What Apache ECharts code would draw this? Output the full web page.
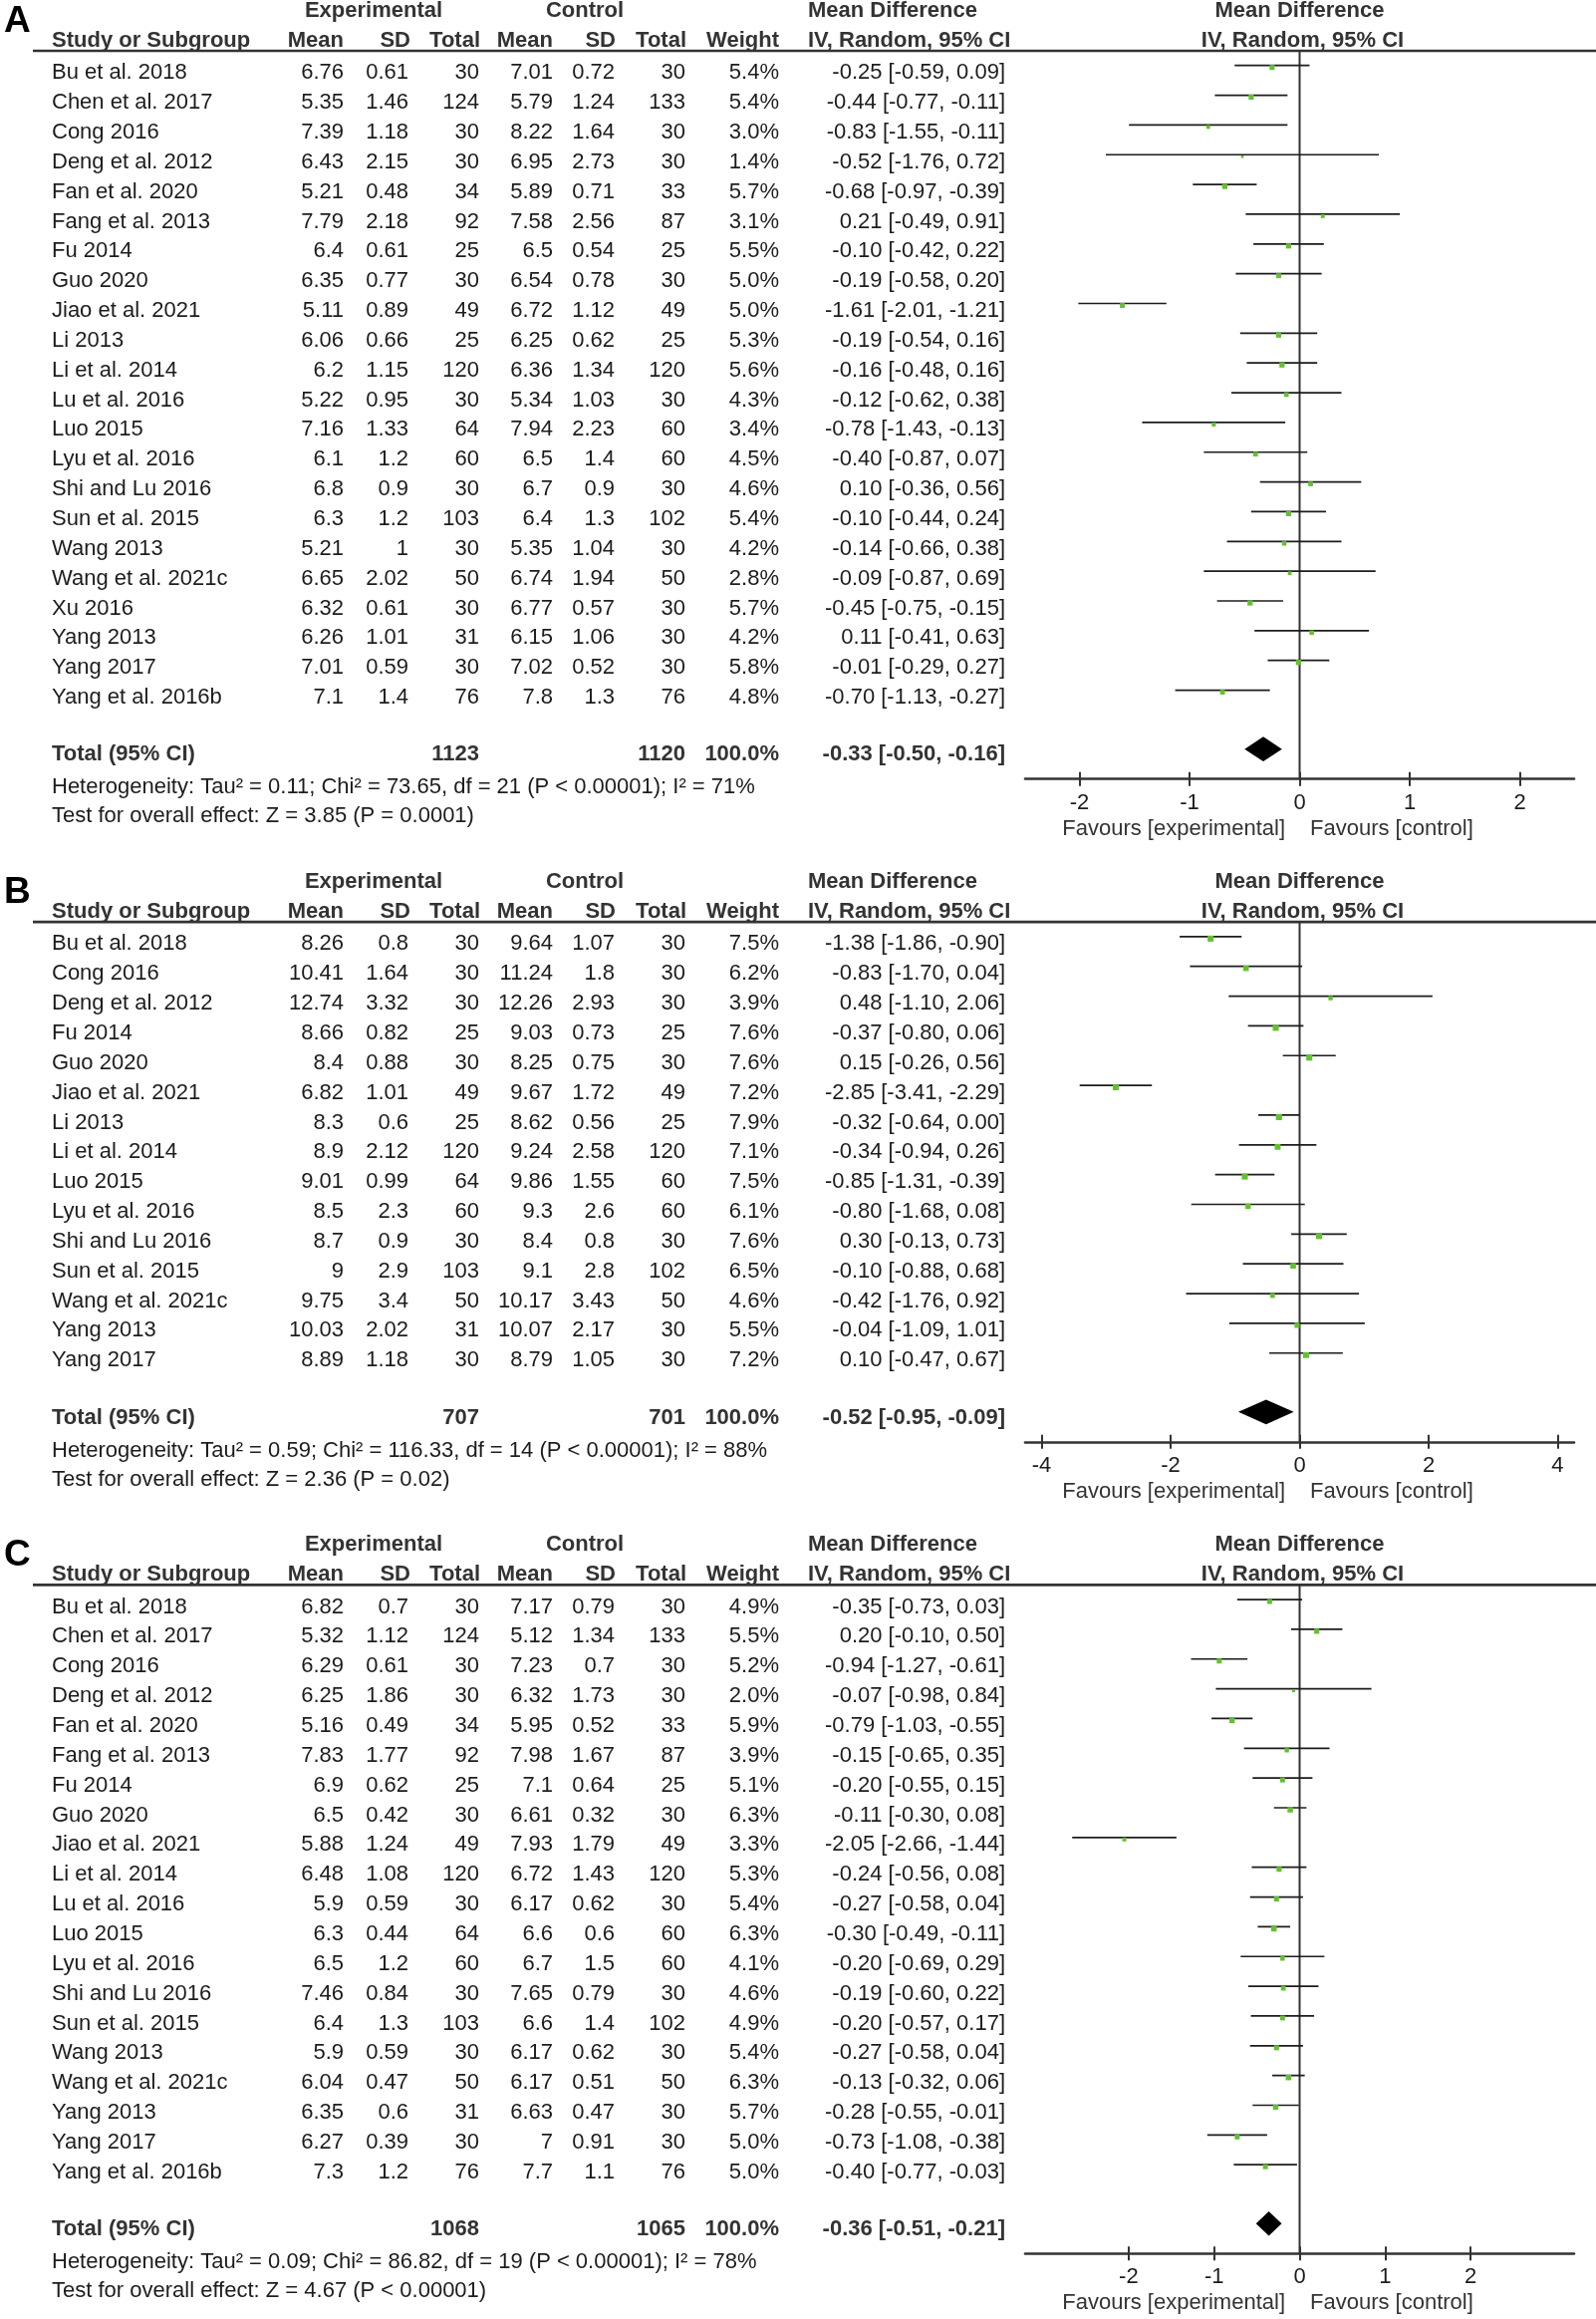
<!DOCTYPE html>
<html><head><meta charset="utf-8">
<script src="https://cdn.jsdelivr.net/npm/echarts@6.0.0/dist/echarts.min.js"></script>
<style>html,body{margin:0;padding:0;background:#fff}#chart{width:1602px;height:2327px}</style>
</head><body><div id="chart"></div>
<script>
// ---------------- Panel A ----------------
const studiesA = ['Bu et al. 2018','Chen et al. 2017','Cong 2016','Deng et al. 2012','Fan et al. 2020','Fang et al. 2013','Fu 2014','Guo 2020','Jiao et al. 2021','Li 2013','Li et al. 2014','Lu et al. 2016','Luo 2015','Lyu et al. 2016','Shi and Lu 2016','Sun et al. 2015','Wang 2013','Wang et al. 2021c','Xu 2016','Yang 2013','Yang 2017','Yang et al. 2016b'];
const expMeanA = [6.76,5.35,7.39,6.43,5.21,7.79,6.4,6.35,5.11,6.06,6.2,5.22,7.16,6.1,6.8,6.3,5.21,6.65,6.32,6.26,7.01,7.1];
const expSdA = [0.61,1.46,1.18,2.15,0.48,2.18,0.61,0.77,0.89,0.66,1.15,0.95,1.33,1.2,0.9,1.2,1,2.02,0.61,1.01,0.59,1.4];
const expNA = [30,124,30,30,34,92,25,30,49,25,120,30,64,60,30,103,30,50,30,31,30,76];
const ctlMeanA = [7.01,5.79,8.22,6.95,5.89,7.58,6.5,6.54,6.72,6.25,6.36,5.34,7.94,6.5,6.7,6.4,5.35,6.74,6.77,6.15,7.02,7.8];
const ctlSdA = [0.72,1.24,1.64,2.73,0.71,2.56,0.54,0.78,1.12,0.62,1.34,1.03,2.23,1.4,0.9,1.3,1.04,1.94,0.57,1.06,0.52,1.3];
const ctlNA = [30,133,30,30,33,87,25,30,49,25,120,30,60,60,30,102,30,50,30,30,30,76];
const weightA = [5.4,5.4,3.0,1.4,5.7,3.1,5.5,5.0,5.0,5.3,5.6,4.3,3.4,4.5,4.6,5.4,4.2,2.8,5.7,4.2,5.8,4.8];
const mdA = [-0.25,-0.44,-0.83,-0.52,-0.68,0.21,-0.10,-0.19,-1.61,-0.19,-0.16,-0.12,-0.78,-0.40,0.10,-0.10,-0.14,-0.09,-0.45,0.11,-0.01,-0.70];
const lowA = [-0.59,-0.77,-1.55,-1.76,-0.97,-0.49,-0.42,-0.58,-2.01,-0.54,-0.48,-0.62,-1.43,-0.87,-0.36,-0.44,-0.66,-0.87,-0.75,-0.41,-0.29,-1.13];
const highA = [0.09,-0.11,-0.11,0.72,-0.39,0.91,0.22,0.20,-1.21,0.16,0.16,0.38,-0.13,0.07,0.56,0.24,0.38,0.69,-0.15,0.63,0.27,-0.27];
const totalA = [1123, 1120, 100.0, -0.33, -0.50, -0.16];
const hetA = 'Heterogeneity: Tau² = 0.11; Chi² = 73.65, df = 21 (P < 0.00001); I² = 71%';
const testA = 'Test for overall effect: Z = 3.85 (P = 0.0001)';
const ticksA = [-2, -1, 0, 1, 2];
const rangeA = [-2.493, 2.493];

// ---------------- Panel B ----------------
const studiesB = ['Bu et al. 2018','Cong 2016','Deng et al. 2012','Fu 2014','Guo 2020','Jiao et al. 2021','Li 2013','Li et al. 2014','Luo 2015','Lyu et al. 2016','Shi and Lu 2016','Sun et al. 2015','Wang et al. 2021c','Yang 2013','Yang 2017'];
const expMeanB = [8.26,10.41,12.74,8.66,8.4,6.82,8.3,8.9,9.01,8.5,8.7,9,9.75,10.03,8.89];
const expSdB = [0.8,1.64,3.32,0.82,0.88,1.01,0.6,2.12,0.99,2.3,0.9,2.9,3.4,2.02,1.18];
const expNB = [30,30,30,25,30,49,25,120,64,60,30,103,50,31,30];
const ctlMeanB = [9.64,11.24,12.26,9.03,8.25,9.67,8.62,9.24,9.86,9.3,8.4,9.1,10.17,10.07,8.79];
const ctlSdB = [1.07,1.8,2.93,0.73,0.75,1.72,0.56,2.58,1.55,2.6,0.8,2.8,3.43,2.17,1.05];
const ctlNB = [30,30,30,25,30,49,25,120,60,60,30,102,50,30,30];
const weightB = [7.5,6.2,3.9,7.6,7.6,7.2,7.9,7.1,7.5,6.1,7.6,6.5,4.6,5.5,7.2];
const mdB = [-1.38,-0.83,0.48,-0.37,0.15,-2.85,-0.32,-0.34,-0.85,-0.80,0.30,-0.10,-0.42,-0.04,0.10];
const lowB = [-1.86,-1.70,-1.10,-0.80,-0.26,-3.41,-0.64,-0.94,-1.31,-1.68,-0.13,-0.88,-1.76,-1.09,-0.47];
const highB = [-0.90,0.04,2.06,0.06,0.56,-2.29,0.00,0.26,-0.39,0.08,0.73,0.68,0.92,1.01,0.67];
const totalB = [707, 701, 100.0, -0.52, -0.95, -0.09];
const hetB = 'Heterogeneity: Tau² = 0.59; Chi² = 116.33, df = 14 (P < 0.00001); I² = 88%';
const testB = 'Test for overall effect: Z = 2.36 (P = 0.02)';
const ticksB = [-4, -2, 0, 2, 4];
const rangeB = [-4.255, 4.255];

// ---------------- Panel C ----------------
const studiesC = ['Bu et al. 2018','Chen et al. 2017','Cong 2016','Deng et al. 2012','Fan et al. 2020','Fang et al. 2013','Fu 2014','Guo 2020','Jiao et al. 2021','Li et al. 2014','Lu et al. 2016','Luo 2015','Lyu et al. 2016','Shi and Lu 2016','Sun et al. 2015','Wang 2013','Wang et al. 2021c','Yang 2013','Yang 2017','Yang et al. 2016b'];
const expMeanC = [6.82,5.32,6.29,6.25,5.16,7.83,6.9,6.5,5.88,6.48,5.9,6.3,6.5,7.46,6.4,5.9,6.04,6.35,6.27,7.3];
const expSdC = [0.7,1.12,0.61,1.86,0.49,1.77,0.62,0.42,1.24,1.08,0.59,0.44,1.2,0.84,1.3,0.59,0.47,0.6,0.39,1.2];
const expNC = [30,124,30,30,34,92,25,30,49,120,30,64,60,30,103,30,50,31,30,76];
const ctlMeanC = [7.17,5.12,7.23,6.32,5.95,7.98,7.1,6.61,7.93,6.72,6.17,6.6,6.7,7.65,6.6,6.17,6.17,6.63,7,7.7];
const ctlSdC = [0.79,1.34,0.7,1.73,0.52,1.67,0.64,0.32,1.79,1.43,0.62,0.6,1.5,0.79,1.4,0.62,0.51,0.47,0.91,1.1];
const ctlNC = [30,133,30,30,33,87,25,30,49,120,30,60,60,30,102,30,50,30,30,76];
const weightC = [4.9,5.5,5.2,2.0,5.9,3.9,5.1,6.3,3.3,5.3,5.4,6.3,4.1,4.6,4.9,5.4,6.3,5.7,5.0,5.0];
const mdC = [-0.35,0.20,-0.94,-0.07,-0.79,-0.15,-0.20,-0.11,-2.05,-0.24,-0.27,-0.30,-0.20,-0.19,-0.20,-0.27,-0.13,-0.28,-0.73,-0.40];
const lowC = [-0.73,-0.10,-1.27,-0.98,-1.03,-0.65,-0.55,-0.30,-2.66,-0.56,-0.58,-0.49,-0.69,-0.60,-0.57,-0.58,-0.32,-0.55,-1.08,-0.77];
const highC = [0.03,0.50,-0.61,0.84,-0.55,0.35,0.15,0.08,-1.44,0.08,0.04,-0.11,0.29,0.22,0.17,0.04,0.06,-0.01,-0.38,-0.03];
const totalC = [1068, 1065, 100.0, -0.36, -0.51, -0.21];
const hetC = 'Heterogeneity: Tau² = 0.09; Chi² = 86.82, df = 19 (P < 0.00001); I² = 78%';
const testC = 'Test for overall effect: Z = 4.67 (P < 0.00001)';
const ticksC = [-2, -1, 0, 1, 2];
const rangeC = [-3.21, 3.21];

// ---------------- Shared header texts ----------------
const panelLabels = ['A', 'B', 'C'];
const headerTop = ['Experimental', 'Control', 'Mean Difference', 'Mean Difference'];
const headerCols = ['Study or Subgroup', 'Mean', 'SD', 'Total', 'Mean', 'SD', 'Total', 'Weight', 'IV, Random, 95% CI', 'IV, Random, 95% CI'];
const totalLabel = 'Total (95% CI)';
const favoursLabels = ['Favours [experimental]', 'Favours [control]'];

// ---------------- Layout ----------------
const FONT = '"Liberation Sans", Arial, Helvetica, sans-serif';
const ROW = 29.85;
const TEXT0 = 73.2, PLOT0 = 65.7, HEAD1 = 11, HEAD2 = 41, HLINE = 51;
const COL = {study: 52, em: 345, es: 410, en: 481, cm: 555, cs: 617, cn: 688, w: 782, ci: 1009, mdl: 811};
const PLOT_L = 1029, PLOT_W = 551, PLOT_C = PLOT_L + PLOT_W / 2;
const BLACK = '#1c1c1c', GREY = '#333333', GREEN = '#62c12f';

function fnt(size, bold) { return (bold ? 'bold ' : '') + size + 'px ' + FONT; }
function ciText(m, l, h) { return m.toFixed(2) + ' [' + l.toFixed(2) + ', ' + h.toFixed(2) + ']'; }

const panels = [
  {studies: studiesA, em: expMeanA, es: expSdA, en: expNA, cm: ctlMeanA, cs: ctlSdA, cn: ctlNA, w: weightA, md: mdA, lo: lowA, hi: highA, tot: totalA, het: hetA, test: testA, ticks: ticksA, range: rangeA},
  {studies: studiesB, em: expMeanB, es: expSdB, en: expNB, cm: ctlMeanB, cs: ctlSdB, cn: ctlNB, w: weightB, md: mdB, lo: lowB, hi: highB, tot: totalB, het: hetB, test: testB, ticks: ticksB, range: rangeB},
  {studies: studiesC, em: expMeanC, es: expSdC, en: expNC, cm: ctlMeanC, cs: ctlSdC, cn: ctlNC, w: weightC, md: mdC, lo: lowC, hi: highC, tot: totalC, het: hetC, test: testC, ticks: ticksC, range: rangeC}
];

const option = {
  animation: false,
  backgroundColor: '#ffffff',
  grid: [], xAxis: [], yAxis: [], series: [],
  graphic: {elements: []}
};
const G = option.graphic.elements;
function txt(x, y, s, opt) {
  opt = opt || {};
  G.push({type: 'text', x: x, y: y, silent: true, style: {
    text: s, font: fnt(opt.size || 22, opt.bold), fill: opt.color || BLACK,
    textAlign: opt.align || 'left', textVerticalAlign: 'middle'
  }});
}

let off = 0;
panels.forEach(function (p, k) {
  const n = p.studies.length;
  const tY = function (i) { return off + TEXT0 + ROW * i; };
  const totY = tY(n - 1) + 57.2;
  const axisY = totY + 24.4;
  const vmin = (HLINE - PLOT0) / ROW;
  const vmax = (axisY - off - PLOT0) / ROW;
  const vDia = (totY - 5.6 - off - PLOT0) / ROW;

  // panel letter
  txt(4, off + 21.5, panelLabels[k], {size: 37, bold: true, color: '#000'});
  // headers
  txt(375, off + HEAD1, headerTop[0], {bold: true, color: GREY, align: 'center'});
  txt(587, off + HEAD1, headerTop[1], {bold: true, color: GREY, align: 'center'});
  txt(COL.mdl, off + HEAD1, headerTop[2], {bold: true, color: GREY});
  txt(PLOT_C, off + HEAD1, headerTop[3], {bold: true, color: GREY, align: 'center'});
  txt(COL.study, off + HEAD2, headerCols[0], {bold: true, color: GREY});
  txt(COL.em, off + HEAD2, headerCols[1], {bold: true, color: GREY, align: 'right'});
  txt(COL.es + 2, off + HEAD2, headerCols[2], {bold: true, color: GREY, align: 'right'});
  txt(COL.en + 1, off + HEAD2, headerCols[3], {bold: true, color: GREY, align: 'right'});
  txt(COL.cm, off + HEAD2, headerCols[4], {bold: true, color: GREY, align: 'right'});
  txt(COL.cs + 1, off + HEAD2, headerCols[5], {bold: true, color: GREY, align: 'right'});
  txt(COL.cn + 1, off + HEAD2, headerCols[6], {bold: true, color: GREY, align: 'right'});
  txt(COL.w, off + HEAD2, headerCols[7], {bold: true, color: GREY, align: 'right'});
  txt(COL.mdl, off + HEAD2, headerCols[8], {bold: true, color: GREY});
  txt(PLOT_C + 3, off + HEAD2, headerCols[9], {bold: true, color: GREY, align: 'center'});
  // header rule
  G.push({type: 'line', silent: true, shape: {x1: 33, y1: off + HLINE, x2: 1602, y2: off + HLINE},
          style: {stroke: GREY, lineWidth: 2.6}});

  // study rows
  for (let i = 0; i < n; i++) {
    const y = tY(i);
    txt(COL.study, y, p.studies[i]);
    txt(COL.em, y, String(p.em[i]), {align: 'right'});
    txt(COL.es, y, String(p.es[i]), {align: 'right'});
    txt(COL.en, y, String(p.en[i]), {align: 'right'});
    txt(COL.cm, y, String(p.cm[i]), {align: 'right'});
    txt(COL.cs, y, String(p.cs[i]), {align: 'right'});
    txt(COL.cn, y, String(p.cn[i]), {align: 'right'});
    txt(COL.w, y, p.w[i].toFixed(1) + '%', {align: 'right'});
    txt(COL.ci, y, ciText(p.md[i], p.lo[i], p.hi[i]), {align: 'right'});
  }
  // total row
  txt(COL.study, totY, totalLabel, {bold: true, color: GREY});
  txt(COL.en, totY, String(p.tot[0]), {bold: true, color: GREY, align: 'right'});
  txt(COL.cn, totY, String(p.tot[1]), {bold: true, color: GREY, align: 'right'});
  txt(COL.w, totY, p.tot[2].toFixed(1) + '%', {bold: true, color: GREY, align: 'right'});
  txt(COL.ci, totY, ciText(p.tot[3], p.tot[4], p.tot[5]), {bold: true, color: GREY, align: 'right'});
  txt(COL.study, totY + 33, p.het);
  txt(COL.study, totY + 62, p.test);
  // favours labels
  txt(PLOT_C - 14.5, axisY + 50, favoursLabels[0], {color: GREY, align: 'right'});
  txt(PLOT_C + 10.5, axisY + 50, favoursLabels[1], {color: GREY});

  // plot grid and axes
  option.grid.push({left: PLOT_L, width: PLOT_W, top: off + HLINE, height: axisY - off - HLINE});
  option.xAxis.push({
    gridIndex: k, type: 'value', min: p.range[0], max: p.range[1], position: 'bottom',
    axisLine: {show: true, onZero: false, lineStyle: {color: GREY, width: 2.6}},
    axisTick: {show: true, customValues: p.ticks, length: 7, lineStyle: {color: GREY, width: 2}},
    axisLabel: {show: true, customValues: p.ticks, fontSize: 22, fontFamily: FONT, color: BLACK, margin: 13},
    splitLine: {show: false}
  });
  option.xAxis.push({
    gridIndex: k, type: 'value', min: p.range[0], max: p.range[1], position: 'bottom',
    axisLine: {show: false, onZero: false},
    axisTick: {show: true, inside: true, customValues: p.ticks, length: 7, lineStyle: {color: GREY, width: 2}},
    axisLabel: {show: false}, splitLine: {show: false}
  });
  option.yAxis.push({gridIndex: k, type: 'value', inverse: true, min: vmin, max: vmax, show: false});

  // zero line
  option.series.push({
    type: 'line', xAxisIndex: 2 * k, yAxisIndex: k, data: [[0, vmin], [0, vmax]],
    symbol: 'none', silent: true, z: 1, lineStyle: {color: GREY, width: 2}
  });
  // study CIs + squares
  option.series.push({
    type: 'custom', xAxisIndex: 2 * k, yAxisIndex: k, z: 3, silent: true,
    encode: {x: [0, 1, 2], y: 3},
    data: p.studies.map(function (s, i) { return [p.lo[i], p.hi[i], p.md[i], i, p.w[i]]; }),
    renderItem: function (params, api) {
      const lo = api.coord([api.value(0), api.value(3)]);
      const hi = api.coord([api.value(1), api.value(3)]);
      const c = api.coord([api.value(2), api.value(3)]);
      const s = 2.2 * Math.sqrt(api.value(4));
      return {type: 'group', children: [
        {type: 'line', shape: {x1: lo[0], y1: lo[1], x2: hi[0], y2: hi[1]}, style: {stroke: BLACK, lineWidth: 1.7}},
        {type: 'rect', shape: {x: c[0] - s / 2, y: c[1] - s / 2 + 2, width: s, height: s}, style: {fill: GREEN}}
      ]};
    }
  });
  // pooled diamond
  option.series.push({
    type: 'custom', xAxisIndex: 2 * k, yAxisIndex: k, z: 3, silent: true,
    encode: {x: [0, 1, 2], y: 3},
    data: [[p.tot[4], p.tot[5], p.tot[3], vDia]],
    renderItem: function (params, api) {
      const lo = api.coord([api.value(0), api.value(3)]);
      const hi = api.coord([api.value(1), api.value(3)]);
      const c = api.coord([api.value(2), api.value(3)]);
      const h = 12.3;
      return {type: 'polygon', shape: {points: [[lo[0], lo[1]], [c[0], c[1] - h], [hi[0], hi[1]], [c[0], c[1] + h]]},
              style: {fill: '#000'}};
    }
  });

  off = axisY + 50 + 42.5;
});

const chart = echarts.init(document.getElementById('chart'));
chart.setOption(option);
</script>
</body></html>
